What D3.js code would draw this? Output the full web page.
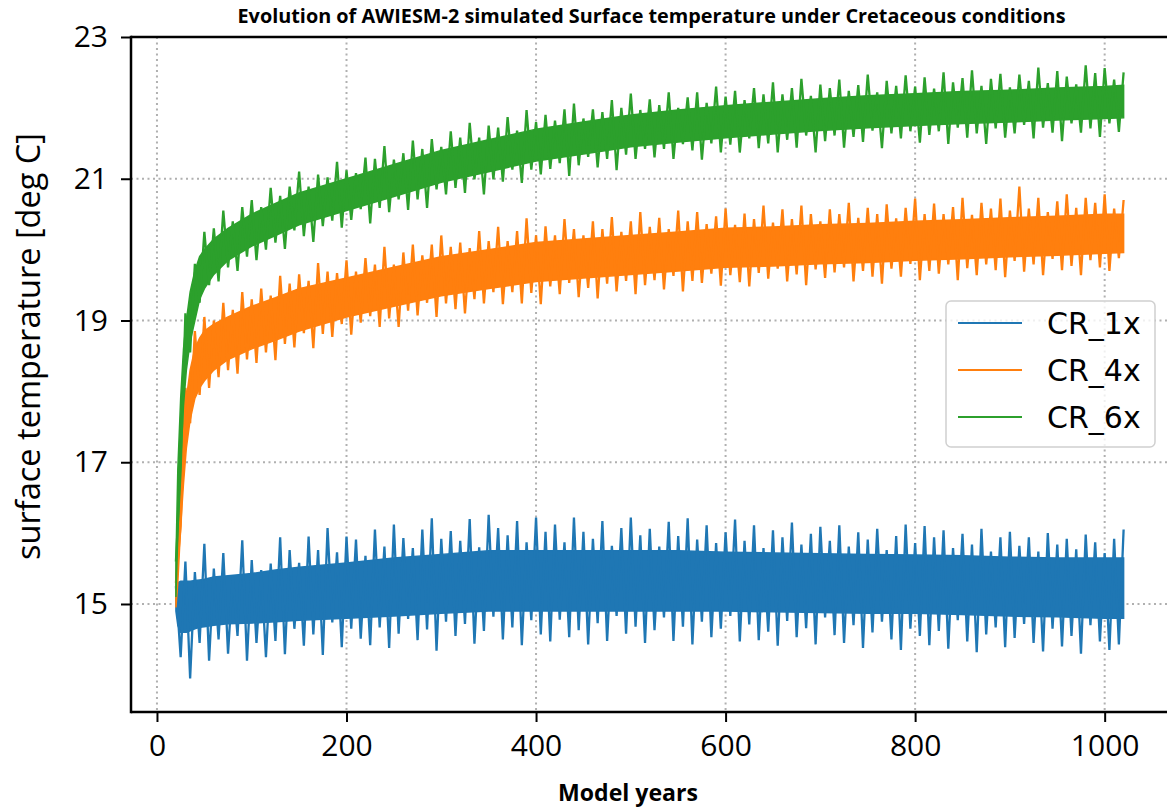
<!DOCTYPE html>
<html>
<head>
<meta charset="utf-8">
<script src="https://cdn.jsdelivr.net/npm/d3@7"></script>
<style>
  body { margin: 0; background: #fff; }
</style>
</head>
<body>
<div id="chart"></div>
<script>
// --- data ----------------------------------------------------------------
var seriesNames = ['CR_1x', 'CR_4x', 'CR_6x'];
var seriesColors = ['#1f77b4', '#ff7f0e', '#2ca02c'];

var xTicks = [0, 200, 400, 600, 800, 1000];
var yTicks = [15, 17, 19, 21, 23];

// dense core of each band (where the monthly line fills solid)
var coreYears = [20, 22, 25, 28, 31, 35, 40, 45, 50, 60,
  75, 100, 125, 150, 200, 250, 300, 350, 400, 450,
  500, 550, 600, 650, 700, 750, 800, 850, 900, 950,
  1000, 1020];

var cr1xCoreLow = [14.9, 14.7, 14.6, 14.6, 14.6, 14.62, 14.65, 14.67, 14.68, 14.7,
  14.72, 14.73, 14.75, 14.77, 14.8, 14.83, 14.87, 14.9, 14.9, 14.9,
  14.9, 14.9, 14.9, 14.89, 14.88, 14.87, 14.87, 14.85, 14.83, 14.82,
  14.8, 14.8];
var cr1xCoreHigh = [15.2, 15.3, 15.32, 15.32, 15.32, 15.32, 15.33, 15.34, 15.35, 15.38,
  15.4, 15.43, 15.48, 15.52, 15.58, 15.65, 15.7, 15.75, 15.75, 15.75,
  15.75, 15.75, 15.73, 15.72, 15.71, 15.7, 15.69, 15.68, 15.66, 15.65,
  15.65, 15.65];

var cr4xCoreLow = [14.95, 15.3, 16.1, 16.7, 17.2, 17.6, 17.9, 18.05, 18.15, 18.3,
  18.45, 18.6, 18.72, 18.85, 19.05, 19.2, 19.35, 19.45, 19.55, 19.6,
  19.65, 19.7, 19.75, 19.77, 19.8, 19.82, 19.85, 19.87, 19.9, 19.92,
  19.95, 19.96];
var cr4xCoreHigh = [15.3, 16.0, 16.8, 17.4, 17.9, 18.3, 18.6, 18.75, 18.85, 18.95,
  19.05, 19.2, 19.32, 19.45, 19.6, 19.75, 19.9, 20.0, 20.1, 20.15,
  20.2, 20.25, 20.3, 20.32, 20.35, 20.37, 20.4, 20.42, 20.45, 20.47,
  20.5, 20.5];

var cr6xCoreLow = [15.1, 16.0, 17.0, 17.8, 18.3, 18.7, 19.0, 19.3, 19.45, 19.65,
  19.85, 20.05, 20.2, 20.35, 20.55, 20.75, 20.95, 21.1, 21.25, 21.35,
  21.45, 21.52, 21.58, 21.63, 21.68, 21.72, 21.75, 21.78, 21.8, 21.83,
  21.85, 21.86];
var cr6xCoreHigh = [15.6, 16.9, 17.9, 18.6, 19.0, 19.4, 19.7, 19.9, 20.0, 20.15,
  20.3, 20.5, 20.65, 20.8, 21.0, 21.2, 21.4, 21.55, 21.7, 21.8,
  21.9, 21.97, 22.03, 22.08, 22.13, 22.17, 22.2, 22.23, 22.25, 22.28,
  22.3, 22.32];

// spikes: upper excursions at years 20,30,...,1020, lower ones at 25,35,...,1015
var peakYears = d3.range(20, 1021, 10);
var troughYears = d3.range(25, 1016, 10);

var cr1xPeaks = [15.25, 15.6, 15.45, 15.85, 15.5, 15.72, 15.4, 15.9, 15.62, 15.48,
  15.57, 15.94, 15.76, 15.58, 15.95, 15.76, 16.07, 15.73, 15.95, 15.91,
  15.68, 16.05, 15.81, 16.12, 15.93, 15.79, 16.05, 16.21, 15.92, 16.03,
  15.89, 16.2, 15.8, 16.26, 16.07, 15.97, 16.17, 15.87, 16.22, 16.02,
  16.12, 15.87, 16.22, 16.02, 15.92, 16.17, 15.82, 16.07, 16.22, 15.97,
  16.06, 15.81, 16.16, 15.96, 16.21, 15.91, 16.11, 15.86, 16.01, 16.19,
  15.89, 16.11, 15.79, 16.04, 15.94, 16.15, 15.84, 15.99, 16.09, 15.89,
  16.11, 15.81, 16.01, 15.91, 16.06, 15.76, 15.96, 16.12, 15.86, 16.1,
  15.94, 16.04, 15.79, 15.99, 15.84, 16.06, 15.74, 15.94, 16.02, 15.82,
  15.94, 15.74, 16.0, 15.84, 15.92, 15.77, 15.98, 15.87, 15.72, 15.92,
  16.05];
var cr1xTroughs = [14.25, 13.95, 14.45, 14.2, 14.5, 14.3, 14.55, 14.2, 14.45, 14.25,
  14.48, 14.29, 14.65, 14.41, 14.57, 14.28, 14.74, 14.39, 14.65, 14.51,
  14.42, 14.67, 14.38, 14.58, 14.79, 14.49, 14.64, 14.34, 14.75, 14.55,
  14.72, 14.44, 14.62, 14.82, 14.5, 14.67, 14.42, 14.77, 14.57, 14.47,
  14.78, 14.53, 14.63, 14.43, 14.73, 14.48, 14.83, 14.58, 14.68, 14.45,
  14.63, 14.81, 14.48, 14.68, 14.43, 14.75, 14.53, 14.65, 14.83, 14.47,
  14.71, 14.49, 14.61, 14.41, 14.76, 14.53, 14.66, 14.43, 14.81, 14.56,
  14.45, 14.7, 14.38, 14.6, 14.75, 14.5, 14.35, 14.65, 14.55, 14.42,
  14.62, 14.37, 14.77, 14.47, 14.32, 14.57, 14.67, 14.39, 14.52, 14.72,
  14.45, 14.33, 14.65, 14.4, 14.55, 14.3, 14.7, 14.47, 14.35, 14.43];

var cr4xPeaks = [15.3, 18.05, 18.85, 19.05, 19.0, 19.25, 19.15, 19.4, 19.3, 19.45,
  19.35, 19.63, 19.52, 19.65, 19.56, 19.81, 19.69, 19.67, 19.85, 19.69,
  19.88, 19.79, 20.04, 19.79, 19.96, 20.07, 19.92, 20.07, 20.2, 20.04,
  20.1, 20.02, 20.26, 20.12, 20.32, 20.12, 20.26, 20.44, 20.2, 20.33,
  20.2, 20.43, 20.29, 20.2, 20.4, 20.29, 20.46, 20.25, 20.4, 20.53,
  20.32, 20.45, 20.29, 20.55, 20.4, 20.53, 20.36, 20.47, 20.58, 20.35,
  20.51, 20.43, 20.62, 20.38, 20.57, 20.43, 20.62, 20.5, 20.4, 20.57,
  20.5, 20.66, 20.45, 20.59, 20.5, 20.64, 20.44, 20.59, 20.72, 20.5,
  20.65, 20.5, 20.6, 20.73, 20.49, 20.66, 20.58, 20.72, 20.55, 20.89,
  20.58, 20.73, 20.53, 20.68, 20.78, 20.59, 20.73, 20.66, 20.78, 20.58,
  20.7];
var cr4xTroughs = [16.1, 17.55, 17.95, 18.05, 18.2, 18.3, 18.25, 18.45, 18.4, 18.55,
  18.44, 18.67, 18.62, 18.82, 18.61, 18.81, 18.77, 18.95, 18.8, 18.97,
  19.06, 18.91, 19.03, 18.91, 19.14, 19.07, 19.25, 19.05, 19.24, 19.16,
  19.1, 19.3, 19.24, 19.4, 19.23, 19.4, 19.24, 19.39, 19.23, 19.48,
  19.37, 19.53, 19.33, 19.46, 19.31, 19.52, 19.41, 19.56, 19.37, 19.5,
  19.57, 19.44, 19.63, 19.41, 19.56, 19.53, 19.66, 19.49, 19.64, 19.54,
  19.48, 19.67, 19.59, 19.73, 19.55, 19.65, 19.5, 19.72, 19.6, 19.68,
  19.75, 19.55, 19.7, 19.62, 19.52, 19.73, 19.62, 19.8, 19.57, 19.7,
  19.66, 19.79, 19.57, 19.74, 19.64, 19.79, 19.71, 19.61, 19.84, 19.69,
  19.79, 19.64, 19.87, 19.71, 19.77, 19.64, 19.85, 19.75, 19.7, 19.88];

var cr6xPeaks = [15.6, 19.1, 19.8, 20.25, 20.3, 20.55, 20.4, 20.6, 20.7, 20.6,
  20.87, 20.76, 20.89, 21.1, 20.89, 21.06, 21.02, 21.24, 21.12, 21.08,
  21.3, 21.28, 21.46, 21.27, 21.36, 21.54, 21.42, 21.56, 21.45, 21.67,
  21.58, 21.79, 21.58, 21.75, 21.72, 21.87, 21.68, 21.97, 21.8, 21.9,
  21.82, 21.98, 22.06, 21.85, 21.98, 21.94, 22.11, 22.0, 22.2, 21.97,
  22.12, 22.04, 22.22, 22.0, 22.15, 22.22, 22.07, 22.3, 22.16, 22.24,
  22.11, 22.28, 22.19, 22.36, 22.19, 22.28, 22.41, 22.17, 22.33, 22.28,
  22.4, 22.24, 22.32, 22.47, 22.22, 22.38, 22.31, 22.46, 22.3, 22.43,
  22.27, 22.5, 22.36, 22.42, 22.53, 22.31, 22.41, 22.48, 22.29, 22.47,
  22.38, 22.57, 22.35, 22.52, 22.44, 22.33, 22.6, 22.49, 22.56, 22.4,
  22.5];
var cr6xTroughs = [16.9, 18.55, 19.25, 19.5, 19.55, 19.75, 19.7, 19.9, 19.85, 20.0,
  20.1, 20.01, 20.27, 20.19, 20.11, 20.33, 20.41, 20.31, 20.42, 20.57,
  20.37, 20.59, 20.53, 20.71, 20.56, 20.71, 20.59, 20.85, 20.78, 20.87,
  20.8, 20.99, 20.78, 20.99, 20.96, 21.13, 20.94, 21.13, 21.06, 21.14,
  21.22, 21.04, 21.19, 21.31, 21.16, 21.28, 21.12, 21.34, 21.28, 21.42,
  21.3, 21.42, 21.28, 21.49, 21.4, 21.27, 21.5, 21.37, 21.48, 21.37,
  21.57, 21.43, 21.5, 21.37, 21.55, 21.44, 21.61, 21.37, 21.53, 21.61,
  21.44, 21.59, 21.52, 21.68, 21.43, 21.64, 21.57, 21.67, 21.51, 21.62,
  21.67, 21.49, 21.72, 21.58, 21.64, 21.49, 21.71, 21.58, 21.64, 21.76,
  21.57, 21.72, 21.65, 21.53, 21.78, 21.65, 21.71, 21.59, 21.78, 21.66];

var coreLows = [cr1xCoreLow, cr4xCoreLow, cr6xCoreLow];
var coreHighs = [cr1xCoreHigh, cr4xCoreHigh, cr6xCoreHigh];
var peaks = [cr1xPeaks, cr4xPeaks, cr6xPeaks];
var troughs = [cr1xTroughs, cr4xTroughs, cr6xTroughs];

// --- layout --------------------------------------------------------------
var width = 1167, height = 811;
var plotLeft = 131, plotRight = 1171, plotTop = 37, plotBottom = 712;

var svg = d3.select('#chart').append('svg')
  .attr('width', width)
  .attr('height', height)
  .style('display', 'block');

var x = d3.scaleLinear().domain([-27.4, 1070]).range([plotLeft, plotRight]);
var y = d3.scaleLinear().domain([13.476, 23]).range([plotBottom, plotTop]);

svg.append('defs').append('clipPath').attr('id', 'plotclip')
  .append('rect')
  .attr('x', plotLeft).attr('y', plotTop)
  .attr('width', plotRight - plotLeft).attr('height', plotBottom - plotTop);

// grid
var grid = svg.append('g').attr('class', 'grid')
  .attr('stroke', '#b0b0b0')
  .attr('stroke-width', 2)
  .attr('stroke-dasharray', '2,3.5');
xTicks.forEach(function (t) {
  grid.append('line')
    .attr('x1', x(t)).attr('x2', x(t))
    .attr('y1', plotTop).attr('y2', plotBottom);
});
yTicks.forEach(function (t) {
  grid.append('line')
    .attr('x1', plotLeft).attr('x2', plotRight)
    .attr('y1', y(t)).attr('y2', y(t));
});

// series
var plot = svg.append('g').attr('clip-path', 'url(#plotclip)');
var core = d3.area()
  .x(function (d) { return x(d.year); })
  .y0(function (d) { return y(d.lo); })
  .y1(function (d) { return y(d.hi); });
var trace = d3.line()
  .x(function (d) { return x(d.year); })
  .y(function (d) { return y(d.t); });

seriesNames.forEach(function (name, s) {
  var band = coreYears.map(function (yr, i) {
    return { year: yr, lo: coreLows[s][i], hi: coreHighs[s][i] };
  });
  var pts = [];
  peakYears.forEach(function (yr, i) {
    pts.push({ year: yr, t: peaks[s][i] });
    if (i < troughYears.length) pts.push({ year: troughYears[i], t: troughs[s][i] });
  });
  var g = plot.append('g').attr('class', 'series ' + name);
  g.append('path')
    .datum(band)
    .attr('d', core)
    .attr('fill', seriesColors[s])
    .attr('stroke', seriesColors[s])
    .attr('stroke-width', 1.5);
  g.append('path')
    .datum(pts)
    .attr('d', trace)
    .attr('fill', 'none')
    .attr('stroke', seriesColors[s])
    .attr('stroke-width', 2.3)
    .attr('stroke-linejoin', 'miter');
});

// axes
var xAxis = svg.append('g')
  .attr('transform', 'translate(0,' + plotBottom + ')')
  .call(d3.axisBottom(x).tickValues(xTicks).tickFormat(d3.format('d')).tickSize(10).tickPadding(13));
var yAxis = svg.append('g')
  .attr('transform', 'translate(' + plotLeft + ',0)')
  .call(d3.axisLeft(y).tickValues(yTicks).tickFormat(d3.format('d')).tickSize(10).tickPadding(13));
[xAxis, yAxis].forEach(function (a) {
  a.select('.domain').remove();
  a.selectAll('.tick line').attr('stroke', '#000').attr('stroke-width', 2);
  a.selectAll('.tick text')
    .attr('fill', '#000')
    .style('font-family', '"Open Sans", sans-serif')
    .style('font-size', '30px');
});

// spines
var spines = svg.append('g').attr('stroke', '#000').attr('stroke-width', 2.5);
spines.append('line').attr('x1', plotLeft).attr('x2', plotLeft).attr('y1', plotTop - 1.2).attr('y2', plotBottom + 1.2);
spines.append('line').attr('x1', plotLeft).attr('x2', plotRight).attr('y1', plotBottom).attr('y2', plotBottom);
spines.append('line').attr('x1', plotLeft).attr('x2', plotRight).attr('y1', plotTop).attr('y2', plotTop);
spines.append('line').attr('x1', plotRight).attr('x2', plotRight).attr('y1', plotTop).attr('y2', plotBottom);

function fitText(sel, target) {
  var w = sel.node().getComputedTextLength();
  var fs = parseFloat(sel.style('font-size'));
  sel.style('font-size', (fs * target / w) + 'px');
}

// titles
svg.append('text')
  .attr('x', 651.5).attr('y', 23)
  .attr('text-anchor', 'middle')
  .style('font-family', '"Open Sans", sans-serif')
  .style('font-weight', 'bold')
  .style('font-size', '19px')
  .attr('textLength', 828)
  .attr('lengthAdjust', 'spacingAndGlyphs')
  .text('Evolution of AWIESM-2 simulated Surface temperature under Cretaceous conditions');

var xLabel = svg.append('text')
  .attr('x', 628).attr('y', 801)
  .attr('text-anchor', 'middle')
  .style('font-family', '"Open Sans", sans-serif')
  .style('font-weight', 'bold')
  .style('font-size', '22px')
  .text('Model years');
fitText(xLabel, 140);

var yLabel = svg.append('text')
  .attr('transform', 'translate(40,346.5) rotate(-90)')
  .attr('text-anchor', 'middle')
  .style('font-family', '"Open Sans", sans-serif')
  .style('font-size', '28px')
  .text('surface temperature [deg C]');
fitText(yLabel, 427);

// legend
var legend = svg.append('g').attr('class', 'legend');
legend.append('rect')
  .attr('x', 946).attr('y', 301)
  .attr('width', 209).attr('height', 146)
  .attr('rx', 5).attr('ry', 5)
  .attr('fill', '#fff').attr('fill-opacity', 0.8)
  .attr('stroke', '#d0d0d0').attr('stroke-width', 1.5);
seriesNames.forEach(function (name, s) {
  var ly = 323 + s * 47;
  legend.append('line')
    .attr('x1', 958).attr('x2', 1022)
    .attr('y1', ly).attr('y2', ly)
    .attr('stroke', seriesColors[s]).attr('stroke-width', 2);
  legend.append('text')
    .attr('x', 1047).attr('y', ly + 11)
    .style('font-family', '"DejaVu Sans", sans-serif')
    .style('font-size', '30px')
    .attr('fill', '#000')
    .text(name);
});
</script>
</body>
</html>
